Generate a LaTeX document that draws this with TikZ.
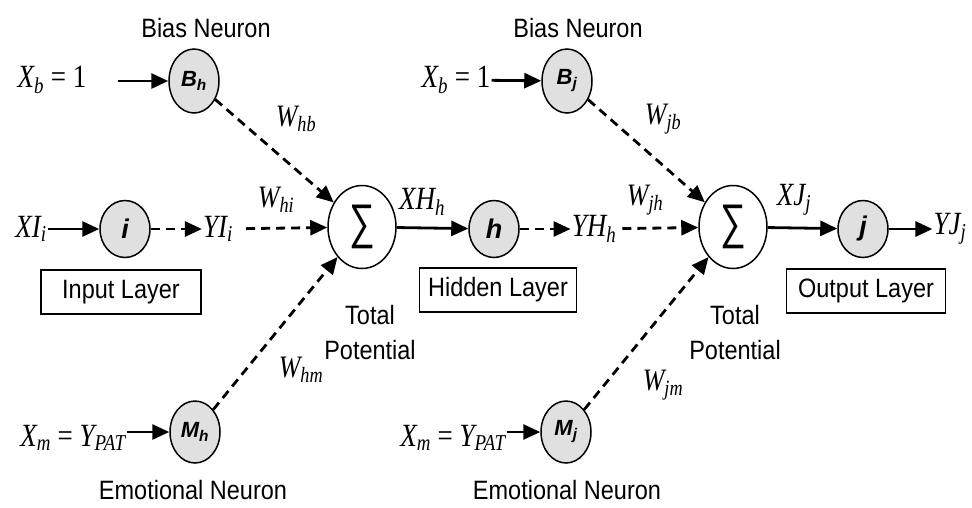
\documentclass[tikz,border=0pt]{standalone}
\usepackage{graphicx}
\usepackage{fontspec}
\setmainfont{Liberation Sans}
\newfontfamily\tms{Liberation Serif}
\usetikzlibrary{arrows.meta,shapes.geometric}

\newcommand{\serif}[1]{\scalebox{1}[1.2]{\tms\itshape #1}}
\newcommand{\stxt}[1]{\scalebox{1}[1.13]{#1}}

\tikzset{
  neuron/.style={draw, ellipse, line width=1.5pt, fill=black!12,
    minimum width=50pt, minimum height=57pt, inner sep=0pt,
    font=\fontsize{27}{27}\selectfont\bfseries\itshape},
  smallneuron/.style={neuron, font=\fontsize{22}{22}\selectfont\bfseries\itshape},
  sumnode/.style={draw, ellipse, line width=1.5pt, fill=white,
    minimum width=68pt, minimum height=83pt, inner sep=0pt,
    font=\fontsize{36}{36}\selectfont},
  layerbox/.style={draw, line width=1.3pt, minimum height=44pt,
    inner sep=0pt, font=\fontsize{23.5}{26}\selectfont},
  txt/.style={inner sep=0pt, align=center, font=\fontsize{23.5}{35}\selectfont},
  lbl/.style={inner sep=1pt, font=\fontsize{27}{30}\selectfont},
  wlbl/.style={inner sep=0pt, font=\fontsize{26}{28}\selectfont},
  sarr/.style={-{Triangle[length=17pt,width=15pt]}, line width=2.8pt},
  darr/.style={sarr, dash pattern=on 9pt off 6pt},
}

\begin{document}
\begin{tikzpicture}[x=1pt,y=-1pt]
\useasboundingbox (0,0) rectangle (972,507);

% neurons
\node[smallneuron,minimum height=64pt] (Bh) at (194,81) {B\textsubscript{h}};
\node[smallneuron,minimum height=64pt] (Bj) at (567,81) {B\textsubscript{j}};
\node[neuron] (i) at (125,229) {i};
\node[neuron] (h) at (494,229) {h};
\node[neuron] (j) at (863,229) {j};
\node[smallneuron,minimum height=62pt] (Mh) at (195,432) {M\textsubscript{h}};
\node[smallneuron,minimum height=62pt] (Mj) at (566,432) {M\textsubscript{j}};
\node[sumnode] (sumh) at (362,227) {\scalebox{1}[1.35]{∑}};
\node[sumnode] (sumj) at (733,227) {\scalebox{1}[1.35]{∑}};

% texts
\node[txt] (biash) at (206,28) {\stxt{Bias Neuron}};
\node[txt] (biasj) at (578,28) {\stxt{Bias Neuron}};
\node[txt] (emoh) at (193,490) {\stxt{Emotional Neuron}};
\node[txt] (emoj) at (567,490) {\stxt{Emotional Neuron}};
\node[txt] (toth) at (370,333) {\stxt{Total}\\\stxt{Potential}};
\node[txt] (totj) at (735,333) {\stxt{Total}\\\stxt{Potential}};
\node[layerbox,minimum width=160pt] (inbox) at (121,292) {\stxt{Input Layer}};
\node[layerbox,minimum width=157pt] (hidbox) at (498,290) {\stxt{Hidden Layer}};
\node[layerbox,minimum width=159pt] (outbox) at (866,291) {\stxt{Output Layer}};

% signals
\node[lbl] (xbh) at (52,80) {\serif{X\textsubscript{b}\upshape{} = 1}};
\node[lbl] (xbj) at (456,80) {\serif{X\textsubscript{b}\upshape{} = 1}};
\node[lbl] (XIi) at (31,229) {\serif{XI\textsubscript{i}}};
\node[lbl] (YIi) at (218,229) {\serif{YI\textsubscript{i}}};
\node[lbl] (XHh) at (422,202) {\serif{XH\textsubscript{h}}};
\node[lbl] (YHh) at (594,229) {\serif{YH\textsubscript{h}}};
\node[lbl] (XJj) at (794,200) {\serif{XJ\textsubscript{j}}};
\node[lbl] (YJj) at (950,229) {\serif{YJ\textsubscript{j}}};
\node[lbl] (xmh) at (73,438) {\serif{X\textsubscript{m}\upshape{} = \itshape{}Y\textsubscript{PAT}}};
\node[lbl] (xmj) at (453,438) {\serif{X\textsubscript{m}\upshape{} = \itshape{}Y\textsubscript{PAT}}};

% weights
\node[wlbl] (whb) at (296,119) {\serif{W\textsubscript{hb}}};
\node[wlbl] (whi) at (276,200) {\serif{W\textsubscript{hi}}};
\node[wlbl] (whm) at (301,370) {\serif{W\textsubscript{hm}}};
\node[wlbl] (wjb) at (663,119) {\serif{W\textsubscript{jb}}};
\node[wlbl] (wjh) at (645,200) {\serif{W\textsubscript{jh}}};
\node[wlbl] (wjm) at (663,385) {\serif{W\textsubscript{jm}}};

\coordinate (xbhend) at (118,81);

% connectors
\draw[sarr] (xbhend) -- (Bh);
\draw[sarr] (xbj) -- (Bj);
\draw[sarr] (XIi) -- (i);
\draw[sarr] (xmh.east |- Mh) -- (Mh);
\draw[sarr] (xmj.east |- Mj) -- (Mj);
\draw[darr] (i) -- (YIi);
\draw[darr,shorten <=12pt] (YIi) -- (sumh);
\draw[darr] (Bh) -- (sumh);
\draw[darr] (Mh) -- (sumh);
\draw[sarr] (sumh) -- (h);
\draw[darr] (h) -- (YHh);
\draw[darr,shorten <=5pt] (YHh) -- (sumj);
\draw[darr] (Bj) -- (sumj);
\draw[darr] (Mj) -- (sumj);
\draw[sarr] (sumj) -- (j);
\draw[sarr] (j) -- (YJj);

\end{tikzpicture}
\end{document}
